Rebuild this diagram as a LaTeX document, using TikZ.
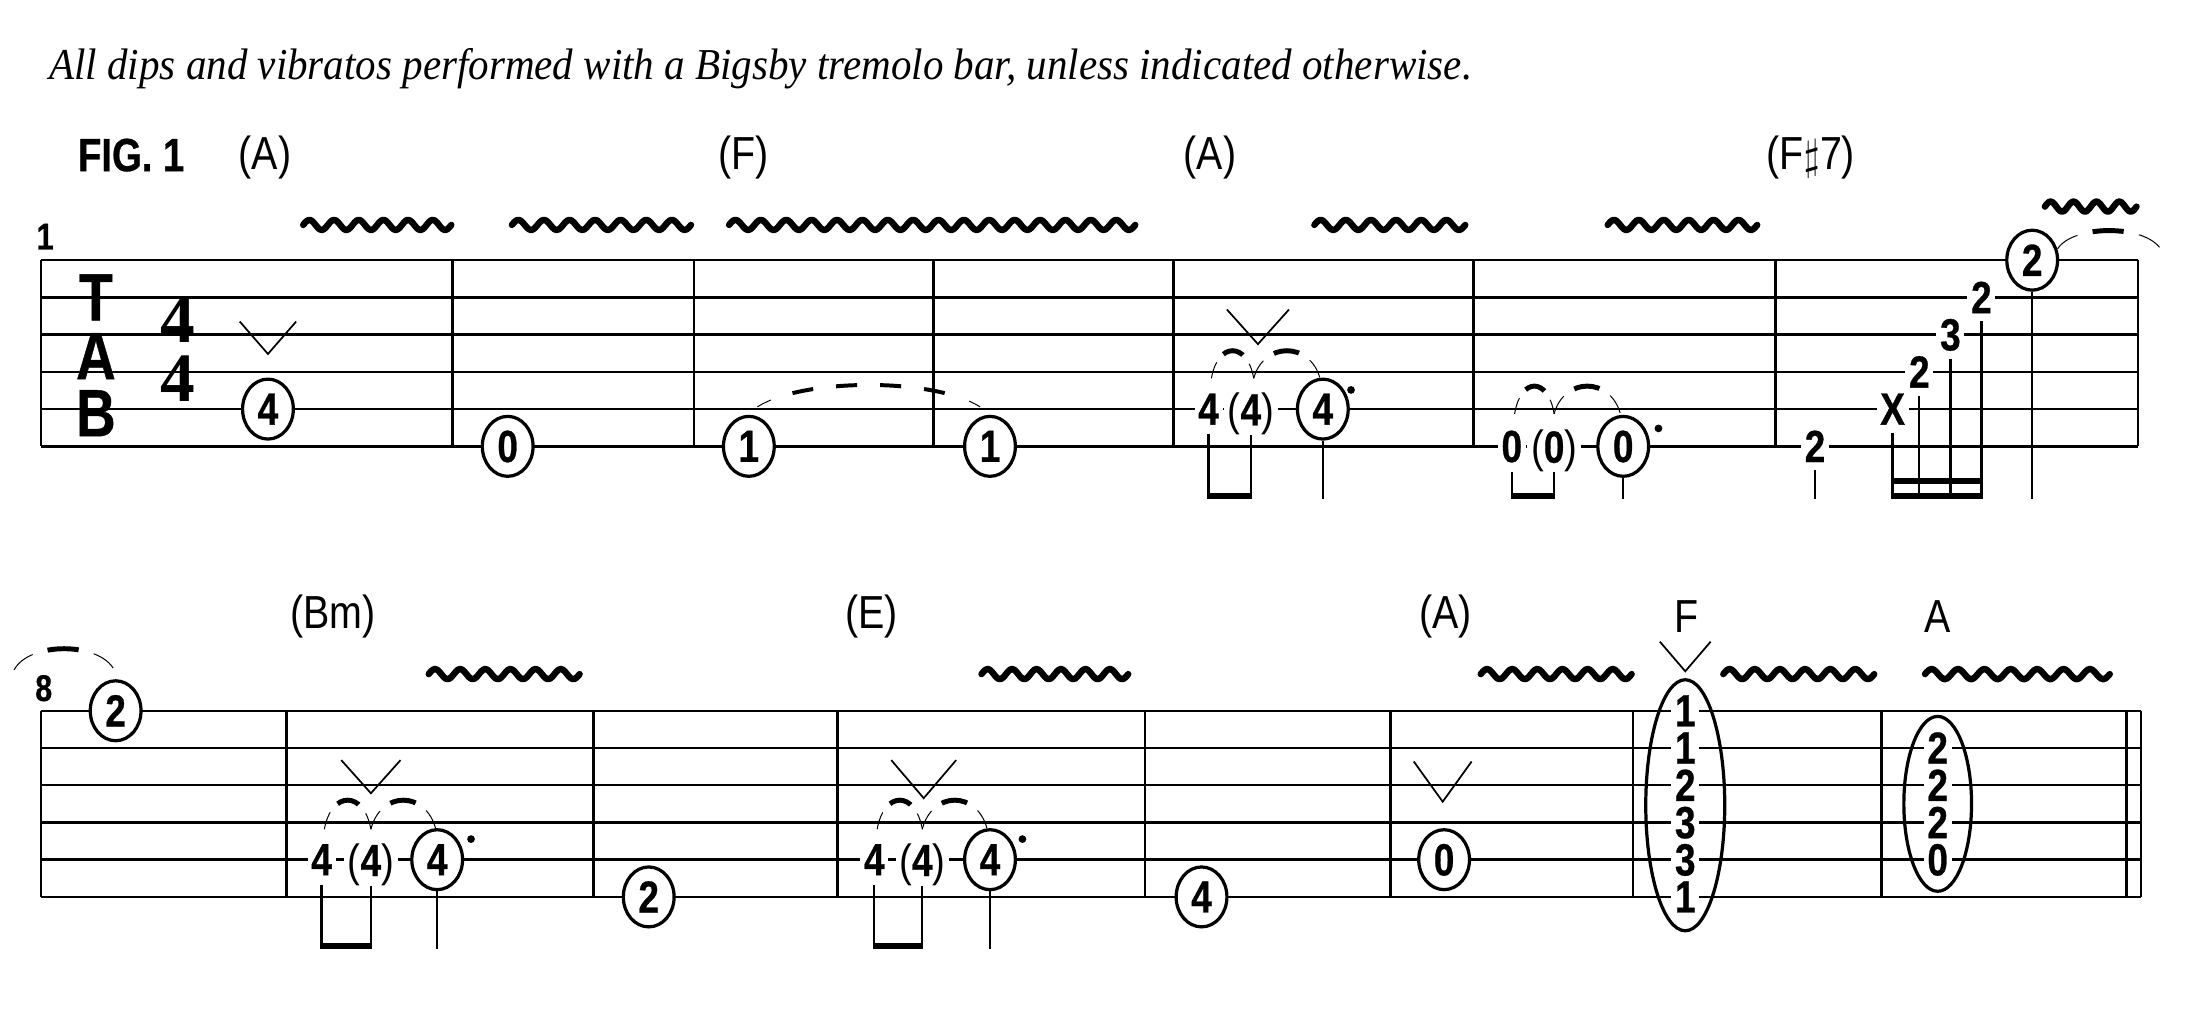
\documentclass[tikz,border=0pt]{standalone}
\usepackage{fontspec}
\setmainfont{Liberation Serif}
\newfontfamily\tabfont[FakeStretch=0.82,FakeBold=0.6]{Liberation Sans}
\newfontfamily\chordfont[FakeStretch=0.85]{Liberation Sans}
\newfontfamily\remarkfont[FakeStretch=0.93]{Liberation Serif}
\usetikzlibrary{shapes.geometric}

\tikzset{
  staffline/.style={line width=1pt},
  barline/.style={line width=1pt},
  fret/.style={font=\tabfont\bfseries\fontsize{18.2}{18}\selectfont, fill=white,
    inner xsep=1.5pt, inner ysep=0pt, text depth=0pt},
  circled/.style={fret, ellipse, draw, line width=1.3pt, minimum width=7.2mm,
    minimum height=8.5mm, inner sep=0pt},
  chord/.style={font=\chordfont\fontsize{18.7}{19}\selectfont},
  figtitle/.style={font=\tabfont\bfseries\fontsize{18.8}{19}\selectfont},
  barnum/.style={font=\tabfont\bfseries\fontsize{15}{15}\selectfont},
  clef/.style={font=\tabfont\bfseries\fontsize{27}{27}\selectfont, inner sep=0pt},
  timesig/.style={font=\bfseries\fontsize{28}{28}\selectfont, inner sep=0pt},
  remark/.style={font=\remarkfont\itshape\fontsize{17.8}{20}\selectfont, inner sep=0pt},
  dip/.style={line width=0.7pt},
  stem/.style={line width=0.9pt},
  ring/.style={line width=1.3pt},
  vibrato/.style={line width=2.6pt, line join=round, line cap=round},
}

\newcommand\ghostnum[1]{{\chordfont\mdseries(}#1{\chordfont\mdseries)}}
% wavy vibrato line, a whole number of waves
\newcommand\vib[3]{%
  \pgfmathsetmacro\vibn{max(1,round(((#2)-(#1))/17.5))}
  \pgfmathsetmacro\vibw{((#2)-(#1))/\vibn}
  \pgfmathtruncatemacro\vibs{12*\vibn+1}
  \draw[vibrato] plot[smooth, domain=#1:#2, samples=\vibs]
    (\x,{#3-3.6*sin(((\x-(#1))/\vibw)*360)});}
\newcommand\dipV[4]{\draw[dip] (#1-#2,#3) -- (#1,#4) -- (#1+#2,#3);}
% tie: thin ends, one thick dash on top
\newcommand\slur[4]{%
  \pgfmathsetmacro\slurw{(#2)-(#1)}
  \pgfmathsetmacro\slurc{(4*(#4)-(#3))/3}
  \pgfmathsetmacro\slurlen{0.56905*sqrt(\slurw*\slurw+5.33*((#3)-(#4))*((#3)-(#4)))}
  \pgfmathsetmacro\slurend{0.22*\slurlen}
  \pgfmathsetmacro\slurgap{0.56*\slurlen}
  \pgfmathsetmacro\slurpre{0.36*\slurlen}
  \pgfmathsetmacro\slurmid{0.28*\slurlen}
  \draw[line width=0.4pt, dash pattern=on \slurend pt off \slurgap pt on \slurend pt off 100pt]
    (#1,#3) .. controls (#1+0.15*\slurw,\slurc) and (#2-0.15*\slurw,\slurc) .. (#2,#3);
  \draw[line width=2pt, dash pattern=on 0pt off \slurpre pt on \slurmid pt off 100pt]
    (#1,#3) .. controls (#1+0.15*\slurw,\slurc) and (#2-0.15*\slurw,\slurc) .. (#2,#3);}

\begin{document}
\begin{tikzpicture}[x=0.2mm,y=-0.2mm]
\useasboundingbox[fill=white] (0,0) rectangle (1560,714.8);

\node[remark, anchor=base west] (remark) at (34.6,56.3)
  {All dips and vibratos performed with a Bigsby tremolo bar, unless indicated otherwise.};

% First system
\begin{scope}[shift={(0,184.5)}]
  \foreach \s in {0,...,5} \draw[staffline] (29,\s*26.4) -- (1516,\s*26.4);
  \foreach \x in {29,321,492,662,832,1045,1259,1516} \draw[barline] (\x,0) -- (\x,132);
  % Clef and meter
  \node[clef] (tabT) at (68,26.4) {T};
  \node[clef] (tabA) at (68,68) {A};
  \node[clef] (tabB) at (68,108.5) {B};
  \node[timesig] (meterN) at (126,42.5) {4};
  \node[timesig] (meterD) at (126,83.8) {4};
  \node[barnum] (bar1) at (32,-16.7) {1};
  \node[figtitle] (fig) at (93,-74.5) {FIG. 1};
  % Chord names
  \node[chord] (chA) at (188,-72.5) {(A)};
  \node[chord] (chF) at (527,-72.5) {(F)};
  \node[chord] (chAb) at (858,-72.5) {(A)};
  \node[chord] (chFs) at (1284,-72.5) {(F$\sharp$7)};
  % Vibratos
  \vib{215}{320}{-25}
  \vib{363}{490}{-25}
  \vib{517}{805}{-25}
  \vib{932}{1039}{-25}
  \vib{1140}{1246}{-25}
  \vib{1450}{1515}{-38}
  % Bar 1
  \node[circled] (m1) at (190,105.6) {4};
  \dipV{190}{20}{43.5}{66.5}
  % Bar 2
  \node[circled] (m2) at (360,132) {0};
  % Bar 3
  \node[circled] (m3a) at (531,132) {1};
  \node[circled] (m3b) at (702,132) {1};
  \draw[line width=0.4pt, dash pattern=on 6.2pt off 81.4pt on 6.2pt off 100pt]
    (537,104) .. controls (570,83.3) and (662,83.3) .. (695,104);
  \draw[line width=1.6pt, dash pattern=on 0pt off 15.3pt on 8.5pt off 9.3pt on 8.5pt off 9.3pt on 8.5pt off 9.3pt on 8.5pt off 100pt]
    (537,104) .. controls (570,83.3) and (662,83.3) .. (695,104);
  % Bar 4
  \node[fret] (m4a) at (857,105.6) {4};
  \node[fret] (m4b) at (887,105.6) {\ghostnum{4}};
  \node[circled] (m4c) at (938,105.6) {4};
  \fill (958,92) circle (0.55mm);
  \dipV{892}{22}{35}{59.5}
  \slur{859}{889}{83.8}{64.2}
  \slur{889}{936}{83.8}{64.2}
  \draw[stem] ([yshift=-1.3mm]m4a.south) -- (m4a.south |- 0,169);
  \draw[stem] ([yshift=-1.3mm]m4b.south) -- (m4b.south |- 0,169);
  \draw[stem] (m4c.south) -- (m4c.south |- 0,169);
  \fill (856.5,165) rectangle (887.5,169);
  % Bar 5
  \node[fret] (m5a) at (1072,132) {0};
  \node[fret] (m5b) at (1102,132) {\ghostnum{0}};
  \node[circled] (m5c) at (1151,132) {0};
  \fill (1176,119.3) circle (0.55mm);
  \slur{1074}{1102}{109}{89.3}
  \slur{1102}{1149}{109}{89.3}
  \draw[stem] ([yshift=-1.3mm]m5a.south) -- (m5a.south |- 0,169);
  \draw[stem] ([yshift=-1.3mm]m5b.south) -- (m5b.south |- 0,169);
  \draw[stem] (m5c.south) -- (m5c.south |- 0,169);
  \fill (1071.5,165) rectangle (1102.5,169);
  % Bar 6
  \node[fret] (m6a) at (1287,132) {2};
  \node[fret] (m6b) at (1342,105.6) {X};
  \node[fret] (m6c) at (1361,79.2) {2};
  \node[fret] (m6d) at (1383,52.8) {3};
  \node[fret] (m6e) at (1405,26.4) {2};
  \node[circled] (m6f) at (1441,0) {2};
  \foreach \n in {m6a,m6b,m6c,m6d,m6e}
    \draw[stem] ([yshift=-1.1mm]\n.south) -- (\n.south |- 0,169);
  \draw[stem] (m6f.south) -- (m6f.south |- 0,169);
  \fill (1341.5,165) rectangle (1405.5,169);
  \fill (1341.5,154.5) rectangle (1405.5,158.5);
  \slur{1459}{1532}{-8}{-21}
\end{scope}

% Second system
\begin{scope}[shift={(0,504)}]
  \foreach \s in {0,...,5} \draw[staffline] (29,\s*26.4) -- (1518,\s*26.4);
  \foreach \x in {29,203,421,594,812,986,1158,1334,1508,1518} \draw[barline] (\x,0) -- (\x,132);
  \node[barnum] (bar8) at (31,-16) {8};
  % Chord names
  \node[chord] (chBm) at (236,-67) {(Bm)};
  \node[chord] (chE) at (618,-67) {(E)};
  \node[chord] (chAc) at (1025,-67) {(A)};
  \node[chord] (chFd) at (1196,-67) {F};
  \node[chord] (chAd) at (1374,-67) {A};
  % Vibratos
  \vib{304}{411}{-26}
  \vib{696}{800}{-26}
  \vib{1050}{1157}{-26}
  \vib{1222}{1329}{-26}
  \vib{1365}{1496}{-26}
  % Bar 8
  \slur{10}{81}{-29}{-44}
  \node[circled] (m8) at (82,0) {2};
  % Bar 9
  \node[fret] (m9a) at (228,105.6) {4};
  \node[fret] (m9b) at (263,105.6) {\ghostnum{4}};
  \node[circled] (m9c) at (310,105.6) {4};
  \fill (334,91) circle (0.55mm);
  \dipV{263}{21}{35}{58.5}
  \slur{230}{263}{84}{63.4}
  \slur{263}{309}{84}{63.4}
  \draw[stem] ([yshift=-1.3mm]m9a.south) -- (m9a.south |- 0,169);
  \draw[stem] ([yshift=-1.3mm]m9b.south) -- (m9b.south |- 0,169);
  \draw[stem] (m9c.south) -- (m9c.south |- 0,169);
  \fill (227.5,165) rectangle (263.5,169);
  % Bar 10
  \node[circled] (m10) at (460,132) {2};
  % Bar 11
  \node[fret] (m11a) at (620,105.6) {4};
  \node[fret] (m11b) at (654,105.6) {\ghostnum{4}};
  \node[circled] (m11c) at (702,105.6) {4};
  \fill (725,91) circle (0.55mm);
  \dipV{655}{23}{35}{62}
  \slur{622}{654}{84}{63.4}
  \slur{654}{700}{84}{63.4}
  \draw[stem] ([yshift=-1.3mm]m11a.south) -- (m11a.south |- 0,169);
  \draw[stem] ([yshift=-1.3mm]m11b.south) -- (m11b.south |- 0,169);
  \draw[stem] (m11c.south) -- (m11c.south |- 0,169);
  \fill (619.5,165) rectangle (654.5,169);
  % Bar 12
  \node[circled] (m12) at (852,132) {4};
  % Bar 13
  \node[circled] (m13) at (1024,105.6) {0};
  \dipV{1023}{20.5}{36}{64.5}
  % Bar 14: F chord
  \foreach \f [count=\i from 0] in {1,1,2,3,3,1}
    \node[fret] (m14s\i) at (1195,\i*26.4) {\f};
  \draw[ring] (1195,67) ellipse [x radius=5.6mm, y radius=17.8mm];
  \dipV{1195}{18}{-49}{-28}
  % Bar 15: A chord
  \foreach \f [count=\i from 1] in {2,2,2,0}
    \node[fret] (m15s\i) at (1374,\i*26.4) {\f};
  \draw[ring] (1374,66) ellipse [x radius=4.8mm, y radius=12.4mm];
\end{scope}
\end{tikzpicture}
\end{document}
